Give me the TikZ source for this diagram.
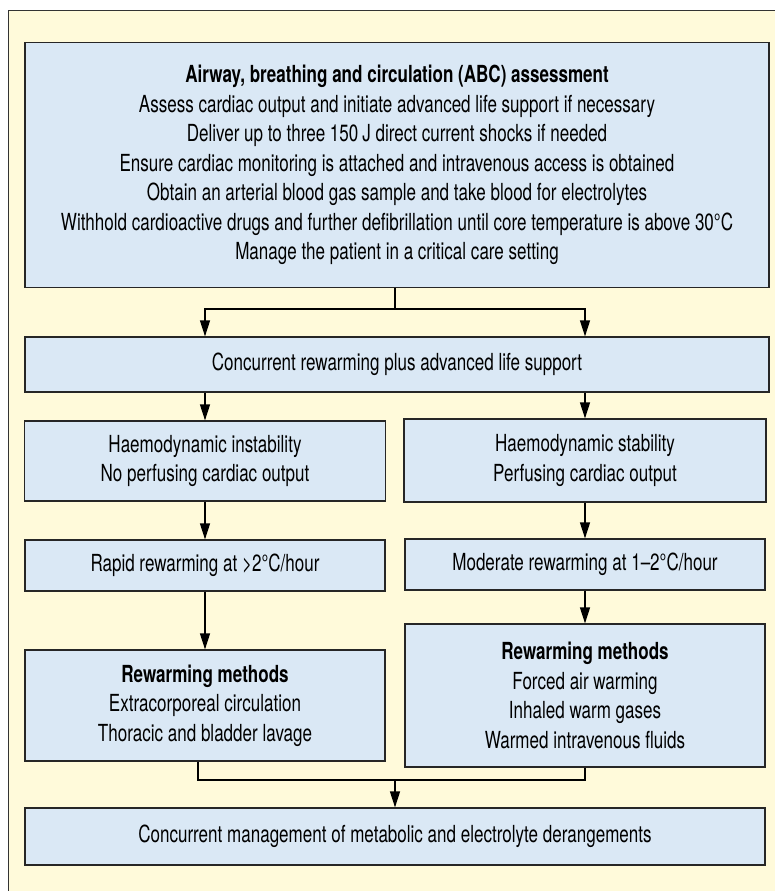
\documentclass[tikz,border=0pt]{standalone}
\usepackage{fontspec}
\setmainfont{TeX Gyre Heros}[FakeStretch=0.725]
\usetikzlibrary{arrows.meta}
\definecolor{cream}{RGB}{255,250,218}
\definecolor{paleblue}{RGB}{218,232,245}

\begin{document}
\begin{tikzpicture}[x=1pt, y=-1pt,
    box/.style={draw=black!85, line width=1.2pt, fill=paleblue, align=center,
      inner sep=0pt, font=\fontsize{23.5}{29.5}\selectfont},
    flow/.style={line width=1.2pt, -{Triangle[length=16pt,width=10pt]}},
    joint/.style={line width=1.2pt}]
    % Page and panel
        \useasboundingbox (0,0) rectangle (775,891);
        \draw[draw=black!80, line width=1pt, fill=cream] (8,11) rectangle (790,905);

        % Full width boxes
        \node[box, minimum width=744pt, minimum height=245pt] (abc) at (397,165)
          {\textbf{Airway, breathing and circulation (ABC) assessment}\\
           Assess cardiac output and initiate advanced life support if necessary\\
           Deliver up to three 150\,J direct current shocks if needed\\
           Ensure cardiac monitoring is attached and intravenous access is obtained\\
           Obtain an arterial blood gas sample and take blood for electrolytes\\
           Withhold cardioactive drugs and further defibrillation until core temperature is above 30°C\\
           Manage the patient in a critical care setting};
        \node[box, minimum width=744pt, minimum height=55pt] (conc) at (397,364.5)
          {Concurrent rewarming plus advanced life support};

        % Left column
        \node[box, minimum width=361pt, minimum height=80pt] (unstable) at (205,461)
          {Haemodynamic instability\\ No perfusing cardiac output};
        \node[box, minimum width=360pt, minimum height=51pt] (rapid) at (205,565.5)
          {Rapid rewarming at >2°C/hour};
        \node[box, minimum width=360pt, minimum height=111pt] (methodsL) at (205,705.5)
          {\textbf{Rewarming methods}\\ Extracorporeal circulation\\ Thoracic and bladder lavage};

        % Right column
        \node[box, minimum width=362pt, minimum height=83pt] (stable) at (585,460.5)
          {Haemodynamic stability\\ Perfusing cardiac output};
        \node[box, minimum width=360pt, minimum height=51pt] (moderate) at (585,564.5)
          {Moderate rewarming at 1–2°C/hour};
        \node[box, minimum width=360pt, minimum height=143pt] (methodsR) at (585,695.5)
          {\textbf{Rewarming methods}\\ Forced air warming\\ Inhaled warm gases\\ Warmed intravenous fluids};

        % Bottom box
        \node[box, minimum width=740pt, minimum height=57pt] (metab) at (395,836.5)
          {Concurrent management of metabolic and electrolyte derangements};

        % Split and join points
        \coordinate (split) at (395,309);
        \coordinate (join) at (395,780);

        % Connectors
        \draw[joint] (abc.south -| split) -- (split);
        \draw[flow] (split) -| (conc.north -| unstable.north);
        \draw[flow] (split) -| (conc.north -| stable.north);
        \foreach \col in {unstable,stable}
          \draw[flow] (conc.south -| \col.north) -- (\col.north);
        \draw[flow] (unstable) -- (rapid);
        \draw[flow] (rapid) -- (methodsL);
        \draw[flow] (stable) -- (moderate);
        \draw[flow] (moderate) -- (methodsR);
        \draw[joint] ([xshift=-7pt]methodsL.south) |- (join) -| (methodsR.south);
        \draw[flow] (join) -- (metab.north);
    \end{tikzpicture}
\end{document}
